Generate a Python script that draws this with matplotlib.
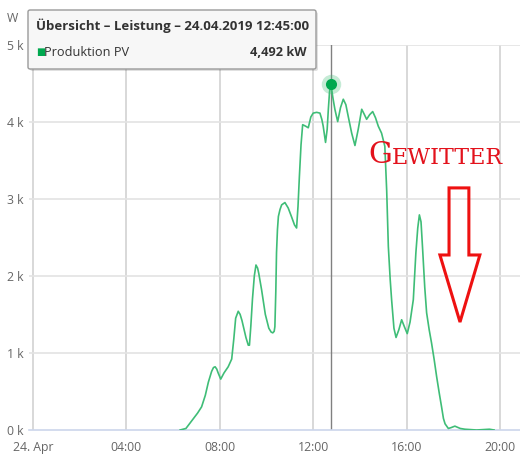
import matplotlib.pyplot as plt
from matplotlib.patches import FancyBboxPatch, Polygon

# PV output on 24.04.2019, hours since midnight -> kW
hours = [6.30, 6.55, 6.80, 7.05, 7.22, 7.38, 7.51, 7.65, 7.73, 7.80, 7.87, 7.93, 8.04,
         8.18, 8.36, 8.51, 8.60, 8.68, 8.79, 8.87, 8.95, 9.12, 9.22, 9.27, 9.33, 9.40,
         9.48, 9.55, 9.62, 9.67, 9.79, 9.95, 10.10, 10.20, 10.27, 10.33, 10.36, 10.40,
         10.43, 10.47, 10.51, 10.58, 10.65, 10.79, 10.93, 11.08, 11.20, 11.29, 11.35,
         11.41, 11.48, 11.55, 11.68, 11.79, 11.90, 12.00, 12.15, 12.29, 12.37, 12.43,
         12.53, 12.60, 12.65, 12.70, 12.75, 12.80, 12.85, 12.93, 13.05, 13.17, 13.29,
         13.40, 13.50, 13.65, 13.79, 13.93, 14.08, 14.18, 14.29, 14.42, 14.55, 14.67,
         14.79, 14.93, 15.07, 15.15, 15.22, 15.30, 15.36, 15.46, 15.55, 15.67, 15.79,
         15.92, 16.03, 16.15, 16.29, 16.40, 16.48, 16.55, 16.62, 16.69, 16.78, 16.86,
         16.97, 17.07, 17.18, 17.29, 17.40, 17.50, 17.58, 17.65, 17.79, 17.90, 18.07,
         18.30, 18.50, 19.00, 19.55, 19.75]
power_kw = [0.00, 0.02, 0.12, 0.22, 0.30, 0.45, 0.62, 0.76, 0.81, 0.82, 0.79, 0.74, 0.66,
            0.74, 0.82, 0.92, 1.18, 1.45, 1.54, 1.50, 1.42, 1.20, 1.10, 1.10, 1.35, 1.70,
            2.00, 2.14, 2.10, 2.03, 1.82, 1.50, 1.32, 1.27, 1.26, 1.28, 1.34, 1.80,
            2.30, 2.60, 2.77, 2.86, 2.92, 2.95, 2.88, 2.76, 2.66, 2.62, 2.90,
            3.29, 3.70, 3.96, 3.94, 3.92, 4.06, 4.11, 4.12, 4.11, 4.03, 3.94,
            3.73, 3.90, 4.16, 4.38, 4.492, 4.40, 4.30, 4.16, 4.00, 4.18, 4.29,
            4.22, 4.07, 3.85, 3.69, 3.90, 4.16, 4.10, 4.03, 4.09, 4.13, 4.05,
            3.94, 3.85, 3.68, 3.10, 2.38, 1.95, 1.69, 1.32, 1.20, 1.30, 1.43,
            1.33, 1.25, 1.40, 1.69, 2.30, 2.62, 2.79, 2.70, 2.34, 1.85, 1.52,
            1.30, 1.13, 0.92, 0.69, 0.48, 0.30, 0.15, 0.08, 0.02, 0.03, 0.05,
            0.02, 0.01, 0.00, 0.01, 0.00]

tick_hours = [0, 4, 8, 12, 16, 20]
tick_labels = ["24. Apr", "04:00", "08:00", "12:00", "16:00", "20:00"]
ytick_vals = [0, 1, 2, 3, 4, 5]
ytick_labels = ["0 k", "1 k", "2 k", "3 k", "4 k", "5 k"]
hover_hour = 12.75
hover_kw = 4.492

plt.rcParams['font.family'] = ['Open Sans', 'DejaVu Sans']

W, H = 520, 463
fig = plt.figure(figsize=(W / 100, H / 100), dpi=100)
ax = fig.add_axes([29.3 / W, 1 - 430 / H, (W - 29.3) / W, (430 - 44.5) / H])

line_c = '#3fbd77'
ax.plot(hours, power_kw, color=line_c, lw=1.2, zorder=3, solid_joinstyle='round')

ax.set_xlim(-0.16, 20.86)
ax.set_ylim(0, 5)

ax.set_xticks(tick_hours)
ax.set_xticklabels(tick_labels)
ax.set_yticks(ytick_vals)
ax.set_yticklabels(ytick_labels)
ax.tick_params(axis='both', length=0, colors='#666666', labelsize=8.8)
ax.tick_params(axis='x', pad=8)
ax.tick_params(axis='y', pad=4)

for v in tick_hours:
    ax.axvline(v, color='#d8d8d8', lw=1.4, zorder=1)
for v in ytick_vals[1:]:
    ax.axhline(v, color='#e3e3e3', lw=1.2, zorder=1)

for s in ['top', 'right', 'left']:
    ax.spines[s].set_visible(False)
ax.spines['bottom'].set_color('#ccd6eb')
ax.spines['bottom'].set_linewidth(1.2)

# crosshair and hover marker
ax.axvline(hover_hour, color='#808080', lw=1.0, zorder=2)
ax.plot(hover_hour, hover_kw, 'o', ms=14, color=line_c, alpha=0.3, mec='none', zorder=4)
ax.plot(hover_hour, hover_kw, 'o', ms=8, color='#00a84f', mec='none', zorder=5)

fig.text(12 / W, 1 - 18 / H, "W", color='#666666', fontsize=8.8, ha='center', va='center')

# tooltip
shadow = FancyBboxPatch((30 / W, 1 - 71 / H), 288 / W, 59 / H,
                        boxstyle="round,pad=0,rounding_size=0.004",
                        transform=fig.transFigure, fc='#000000', alpha=0.12, ec='none', zorder=9)
box = FancyBboxPatch((28 / W, 1 - 69 / H), 288 / W, 59 / H,
                     boxstyle="round,pad=0,rounding_size=0.004",
                     transform=fig.transFigure, fc='#f7f7f7', ec='#9a9a9a', lw=1.0, zorder=10)
fig.patches.extend([shadow, box])
fig.text(36 / W, 1 - 26 / H, "Übersicht – Leistung – 24.04.2019 12:45:00",
         fontsize=9.5, fontweight='bold', color='#333333', va='center', zorder=11)
fig.text(36 / W, 1 - 52 / H, "■", fontsize=7, color='#00a84f', va='center', zorder=11)
fig.text(44 / W, 1 - 52 / H, "Produktion PV", fontsize=9.2, color='#333333', va='center', zorder=11)
fig.text(307 / W, 1 - 52 / H, "4,492 kW", fontsize=9.2, fontweight='bold', color='#333333',
         ha='right', va='center', zorder=11)

# "Gewitter" annotation in small caps
red = '#e3121c'
g = fig.text(368 / W, 1 - 163 / H, "G", fontsize=21.5, color=red, family='DejaVu Serif',
             va='baseline', zorder=6)
ax.annotate("EWITTER", xy=(1, 0), xycoords=g, fontsize=16, color=red,
            family='DejaVu Serif', va='bottom', ha='left', zorder=6)

# hollow arrow
arrow = Polygon([(17.82, 3.14), (18.67, 3.14), (18.67, 2.27), (19.14, 2.27),
                 (18.29, 1.40), (17.43, 2.27), (17.82, 2.27)],
                closed=True, fill=False, ec='#ee1111', lw=2.2, zorder=6)
ax.add_patch(arrow)

fig.savefig("out.png", dpi=100)
